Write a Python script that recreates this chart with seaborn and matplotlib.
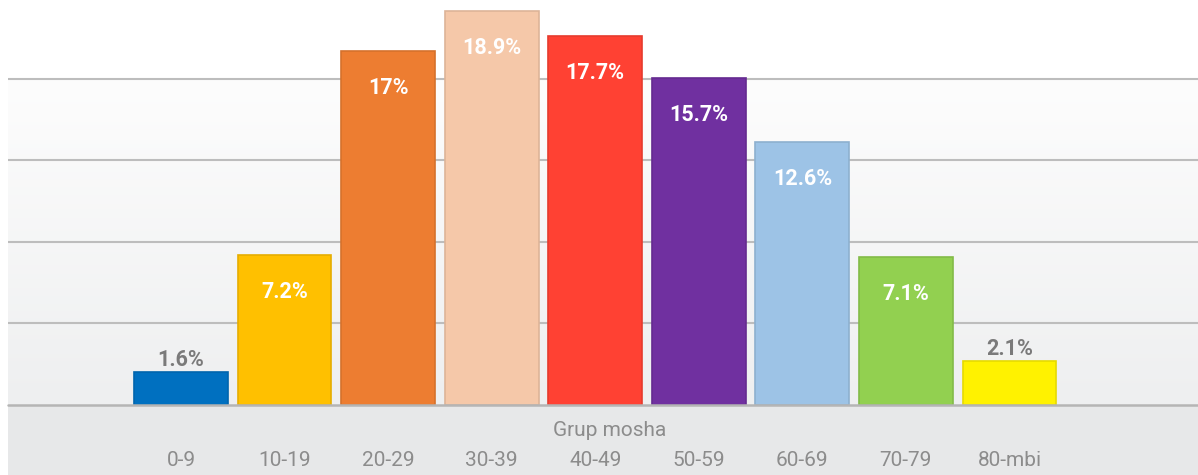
import numpy as np
import pandas as pd
import matplotlib
matplotlib.use("Agg")
import matplotlib.pyplot as plt
import matplotlib.colors as mcolors
from matplotlib.patches import Rectangle
import seaborn as sns

categories = ["0-9", "10-19", "20-29", "30-39", "40-49", "50-59", "60-69", "70-79", "80-mbi"]
values = [1.6, 7.2, 17.0, 18.9, 17.7, 15.7, 12.6, 7.1, 2.1]
labels = ["1.6%", "7.2%", "17%", "18.9%", "17.7%", "15.7%", "12.6%", "7.1%", "2.1%"]
colors = ["#0070c0", "#ffc000", "#ed7d31", "#f5c8a9", "#ff4133",
          "#7030a0", "#9dc3e6", "#92d050", "#fff200"]
x_title = "Grup mosha"

sns.set_theme(style="white")
plt.rcParams["font.family"] = ["Roboto", "DejaVu Sans"]

W, H = 1198, 475
fig = plt.figure(figsize=(W / 100, H / 100), dpi=100)
fig.patch.set_facecolor("white")

# bottom grey band
fig.patches.append(Rectangle((8 / W, 0), 1 - 8 / W, (H - 405) / H,
                             transform=fig.transFigure, facecolor="#e7e8e9",
                             edgecolor="none", zorder=-5))

ax = fig.add_axes([8 / W, (H - 405) / H, 1 - 8 / W, 405 / H])
ax.set_facecolor("none")
ax.set_zorder(2)

df = pd.DataFrame({"cat": categories, "val": values})
sns.barplot(data=df, x="cat", y="val", hue="cat", palette=colors, legend=False,
            width=0.907, ax=ax, zorder=3, saturation=1)

for p, c in zip(ax.patches, colors):
    rgb = np.array(mcolors.to_rgb(c))
    p.set_edgecolor(tuple(rgb * 0.9))
    p.set_linewidth(1.2)

ymax = 405 / 20.85
step = 3.909
xl = (-1.67, 9.82)

# gradient background below top gridline
grad = np.linspace(0, 1, 256).reshape(-1, 1)
cmap = mcolors.LinearSegmentedColormap.from_list("g", ["#eeeff0", "#fdfdfd"])
ax.imshow(grad, extent=(xl[0], xl[1], 0, 4 * step), origin="lower",
          aspect="auto", cmap=cmap, zorder=0)
ax.set_xlim(*xl)
ax.set_ylim(0, ymax)

for k in range(1, 5):
    ax.axhline(k * step, color="#bdbdbd", lw=1.5, zorder=1)
ax.axhline(0, color="#b5b5b5", lw=1.8, zorder=4, clip_on=False)

px = ymax / 405
for i, (v, lab) in enumerate(zip(values, labels)):
    if v > 5:
        ax.text(i, v - 37 * px, lab, ha="center", va="center", color="white",
                fontsize=15.5, fontweight="bold", zorder=5)
    else:
        ax.text(i, v + 12 * px, lab, ha="center", va="center", color="#7a7a7a",
                fontsize=15.5, fontweight="bold", zorder=5)

ax.set_yticks([])
ax.set_xticks(range(len(categories)))
ax.set_xticklabels(categories, fontsize=15, color="#8c8c8c")
ax.tick_params(axis="x", length=0, pad=33)
ax.set_xlabel("")
ax.set_ylabel("")
for s in ax.spines.values():
    s.set_visible(False)

ax.text((610 - 8) / (W - 8), -(430 - 405) / 405, x_title, transform=ax.transAxes,
        ha="center", va="center", fontsize=15, color="#8c8c8c", clip_on=False)

fig.savefig("out.png", dpi=100)
